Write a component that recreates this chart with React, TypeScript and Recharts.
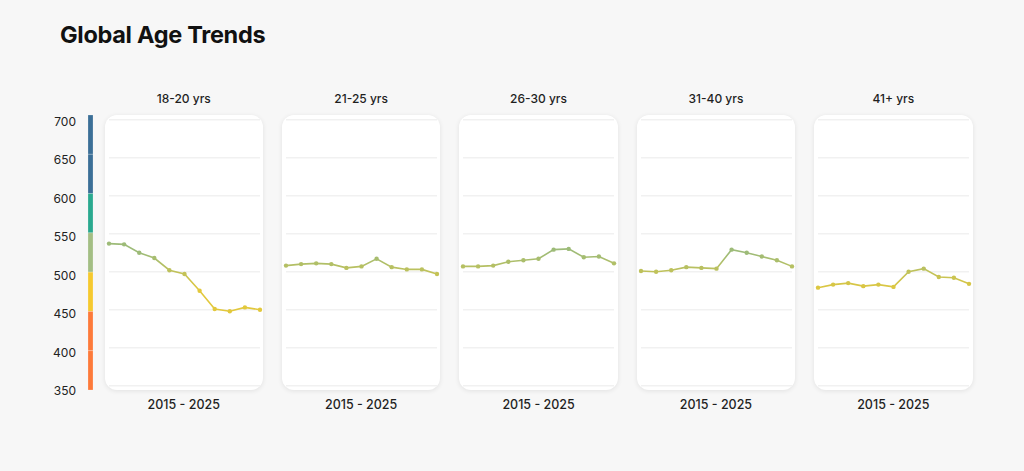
import React from "react";
import { LineChart, Line, XAxis, YAxis, CartesianGrid, ReferenceArea } from "recharts";

const years = ["2015", "2016", "2017", "2018", "2019", "2020", "2021", "2022", "2023", "2024", "2025"];
const panelTitles = ["18-20 yrs", "21-25 yrs", "26-30 yrs", "31-40 yrs", "41+ yrs"];
const periodLabel = "2015 - 2025";
const s18_20 = [537, 536, 525, 518, 502, 497, 475, 451, 448, 453, 450];
const s21_25 = [508, 510, 511, 510, 505, 507, 517, 506, 503, 503, 497];
const s26_30 = [507, 507, 508, 513, 515, 517, 529, 530, 519, 520, 511];
const s31_40 = [501, 500, 502, 506, 505, 504, 529, 525, 520, 515, 507];
const s41 = [479, 483, 485, 481, 483, 480, 500, 504, 493, 492, 484];
const seriesList = [s18_20, s21_25, s26_30, s31_40, s41];
const yTicks = [350, 400, 450, 500, 550, 600, 650, 700];
const gridTicks = [400, 450, 500, 550, 600, 650];
const bandFrom = [650, 600, 550, 500, 450, 400, 350];
const bandTo = [700, 650, 600, 550, 500, 450, 400];
const bandColors = ["#3b6f97", "#3b6f97", "#2aa98f", "#a3be84", "#f5c92f", "#fd7a3a", "#fd7a3a"];

const YELLOW = [226, 200, 60];
const SAGE = [157, 187, 120];
function colorFor(v: number) {
  const t = Math.max(0, Math.min(1, (v - 475) / 50));
  const c = YELLOW.map((y, i) => Math.round(y + (SAGE[i] - y) * t));
  return `rgb(${c[0]},${c[1]},${c[2]})`;
}

const FONT = "Inter, 'Noto Sans', sans-serif";
const CARD_TOP = 115;
const CARD_H = 275;
const CARD_W = 158.5;
const CARD_LEFT0 = 104.5;
const CARD_STEP = 177.4;

function Panel({ idx }: { idx: number }) {
  const values = seriesList[idx];
  const data = years.map((y, i) => ({ year: y, v: values[i] }));
  const max = Math.max(...values);
  const min = Math.min(...values);
  const sorted = [...values].sort((a, b) => b - a);
  const gid = `grad${idx}`;
  const left = CARD_LEFT0 + idx * CARD_STEP;
  const dot = (p: any) => {
    const { cx, cy, payload, index } = p;
    return <circle key={`d${index}`} cx={cx} cy={cy} r={2.2} fill={colorFor(payload.v)} />;
  };
  return (
    <>
      <div
        style={{
          position: "absolute",
          left: left - 20,
          width: CARD_W + 40,
          top: 90.5,
          lineHeight: "16px",
          textAlign: "center",
          fontFamily: FONT,
          fontSize: 12,
          fontWeight: 500,
          color: "#1f1f1f",
        }}
      >
        {panelTitles[idx]}
      </div>
      <div
        style={{
          position: "absolute",
          left,
          top: CARD_TOP,
          width: CARD_W,
          height: CARD_H,
          background: "#ffffff",
          borderRadius: 12,
          boxShadow: "0 1px 5px rgba(0,0,0,0.09)",
        }}
      >
        <LineChart width={CARD_W} height={CARD_H} data={data} margin={{ top: 4.7, bottom: 4.3, left: 4, right: 3.5 }}>
          <defs>
            <linearGradient id={gid} x1="0" y1="0" x2="0" y2="1">
              {sorted.map((v, i) => (
                <stop key={i} offset={max === min ? 0 : (max - v) / (max - min)} stopColor={colorFor(v)} />
              ))}
            </linearGradient>
          </defs>
          <CartesianGrid vertical={false} stroke="#f1f1f1" strokeWidth={1.5} />
          <XAxis dataKey="year" hide />
          <YAxis hide domain={[350, 700]} ticks={gridTicks} type="number" />
          <Line
            dataKey="v"
            stroke={`url(#${gid})`}
            strokeWidth={1.6}
            dot={dot}
            activeDot={false}
            isAnimationActive={false}
          />
        </LineChart>
      </div>
      <div
        style={{
          position: "absolute",
          left: left - 20,
          width: CARD_W + 40,
          top: 397,
          lineHeight: "16px",
          textAlign: "center",
          fontFamily: FONT,
          fontSize: 12.5,
          fontWeight: 500,
          color: "#1f1f1f",
        }}
      >
        {periodLabel}
      </div>
    </>
  );
}

export default function App() {
  const dummy = [{ x: "a", v: 500 }, { x: "b", v: 500 }];
  return (
    <div
      style={{
        position: "absolute",
        left: 0,
        top: 0,
        width: 1024,
        height: 471,
        background: "#f7f7f7",
        overflow: "hidden",
        fontFamily: FONT,
      }}
    >
      <div
        style={{
          position: "absolute",
          left: 60,
          top: 19.5,
          fontSize: 23.5,
          lineHeight: "30px",
          fontWeight: 700,
          color: "#111",
          fontFamily: FONT,
          letterSpacing: -0.3,
        }}
      >
        Global Age Trends
      </div>
      <div style={{ position: "absolute", left: 0, top: 100 }}>
        <LineChart width={80} height={310} data={dummy} margin={{ top: 21.7, bottom: 19, left: 0, right: 4 }}>
          <XAxis dataKey="x" hide />
          <YAxis
            type="number"
            domain={[350, 700]}
            ticks={yTicks}
            width={76}
            tickSize={0}
            tickMargin={0}
            axisLine={false}
            tickLine={false}
            tick={{ fontSize: 12, fill: "#222", fontFamily: FONT }}
            interval={0}
          />
          <Line dataKey="v" stroke="none" dot={false} activeDot={false} isAnimationActive={false} />
        </LineChart>
      </div>
      <div style={{ position: "absolute", left: 88.3, top: 115 }}>
        <LineChart width={5} height={275} data={dummy} margin={{ top: 0, bottom: 0, left: 0, right: 0 }}>
          <XAxis dataKey="x" hide />
          <YAxis hide type="number" domain={[350, 700]} />
          <Line dataKey="v" stroke="none" dot={false} activeDot={false} isAnimationActive={false} />
          {bandFrom.map((f, i) => (
            <ReferenceArea
              key={i}
              y1={f}
              y2={bandTo[i]}
              fill={bandColors[i]}
              fillOpacity={1}
              stroke="rgba(255,255,255,0.35)"
              strokeWidth={0.6}
              ifOverflow="visible"
            />
          ))}
        </LineChart>
      </div>
      {panelTitles.map((_, i) => (
        <Panel key={i} idx={i} />
      ))}
    </div>
  );
}
